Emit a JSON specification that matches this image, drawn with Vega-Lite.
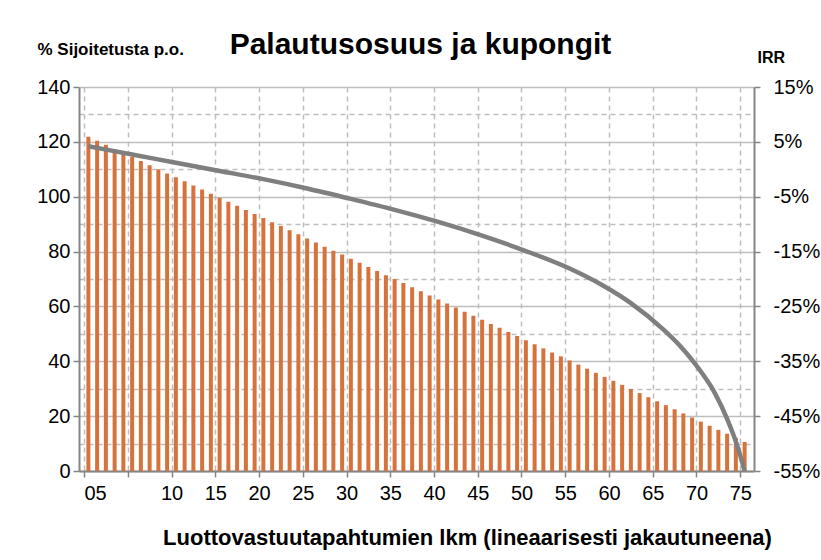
{
  "$schema": "https://vega.github.io/schema/vega-lite/v6.json",
  "autosize": {"type": "none"},
  "padding": {"left": 79, "top": 87, "right": 67, "bottom": 89},
  "width": 675,
  "height": 384,
  "background": "white",
  "title": {
    "text": "Palautusosuus ja kupongit",
    "anchor": "middle",
    "frame": "group",
    "font": "Liberation Sans",
    "fontSize": 30,
    "fontWeight": "bold",
    "color": "#000000",
    "offset": -20,
    "dx": 4
  },
  "config": {
    "view": {"stroke": null},
    "font": "Liberation Sans"
  },
  "datasets": {
    "bars": [
      {"x":0.5,"v":121.9},{"x":1.5,"v":120.4},{"x":2.5,"v":118.9},{"x":3.5,"v":117.4},{"x":4.5,"v":116.0},
      {"x":5.5,"v":114.5},{"x":6.5,"v":113.0},{"x":7.5,"v":111.5},{"x":8.5,"v":110.0},{"x":9.5,"v":108.5},
      {"x":10.5,"v":107.1},{"x":11.5,"v":105.6},{"x":12.5,"v":104.1},{"x":13.5,"v":102.6},{"x":14.5,"v":101.1},
      {"x":15.5,"v":99.6},{"x":16.5,"v":98.2},{"x":17.5,"v":96.7},{"x":18.5,"v":95.2},{"x":19.5,"v":93.7},
      {"x":20.5,"v":92.2},{"x":21.5,"v":90.7},{"x":22.5,"v":89.3},{"x":23.5,"v":87.8},{"x":24.5,"v":86.3},
      {"x":25.5,"v":84.8},{"x":26.5,"v":83.3},{"x":27.5,"v":81.8},{"x":28.5,"v":80.3},{"x":29.5,"v":78.9},
      {"x":30.5,"v":77.4},{"x":31.5,"v":75.9},{"x":32.5,"v":74.4},{"x":33.5,"v":72.9},{"x":34.5,"v":71.4},
      {"x":35.5,"v":70.0},{"x":36.5,"v":68.5},{"x":37.5,"v":67.0},{"x":38.5,"v":65.5},{"x":39.5,"v":64.0},
      {"x":40.5,"v":62.5},{"x":41.5,"v":61.1},{"x":42.5,"v":59.6},{"x":43.5,"v":58.1},{"x":44.5,"v":56.6},
      {"x":45.5,"v":55.1},{"x":46.5,"v":53.6},{"x":47.5,"v":52.2},{"x":48.5,"v":50.7},{"x":49.5,"v":49.2},
      {"x":50.5,"v":47.7},{"x":51.5,"v":46.2},{"x":52.5,"v":44.7},{"x":53.5,"v":43.2},{"x":54.5,"v":41.8},
      {"x":55.5,"v":40.3},{"x":56.5,"v":38.8},{"x":57.5,"v":37.3},{"x":58.5,"v":35.8},{"x":59.5,"v":34.3},
      {"x":60.5,"v":32.9},{"x":61.5,"v":31.4},{"x":62.5,"v":29.9},{"x":63.5,"v":28.4},{"x":64.5,"v":26.9},
      {"x":65.5,"v":25.4},{"x":66.5,"v":24.0},{"x":67.5,"v":22.5},{"x":68.5,"v":21.0},{"x":69.5,"v":19.5},
      {"x":70.5,"v":18.0},{"x":71.5,"v":16.5},{"x":72.5,"v":15.0},{"x":73.5,"v":13.6},{"x":74.5,"v":12.1},
      {"x":75.5,"v":10.6}
    ],
    "irr": [
      {"x":0.5,"irr":4.2},{"x":5.5,"irr":2.7},{"x":10.5,"irr":1.2},{"x":15.5,"irr":-0.3},
      {"x":20.5,"irr":-1.8},{"x":25.5,"irr":-3.5},{"x":30.5,"irr":-5.4},{"x":35.5,"irr":-7.4},
      {"x":40.5,"irr":-9.6},{"x":45.5,"irr":-12.1},{"x":50.5,"irr":-14.9},
      {"x":55.5,"irr":-18.1},{"x":59.2,"irr":-21.1},{"x":62.5,"irr":-24.4},{"x":66.2,"irr":-29.2},
      {"x":68,"irr":-32.0},{"x":69.8,"irr":-35.4},{"x":72.1,"irr":-40.8},{"x":73.5,"irr":-45.5},
      {"x":74.7,"irr":-50.6},{"x":75.5,"irr":-55}
    ]
  },
  "resolve": {"scale": {"y": "independent"}},
  "layer": [
    {
      "data": {"name": "bars"},
      "mark": {"type": "bar", "color": "#D6733C", "width": 4, "orient": "vertical"},
      "encoding": {
        "x": {
          "field": "x", "type": "quantitative",
          "scale": {"domain": [0, 76], "nice": false, "zero": false},
          "axis": {
            "values": [0,5,10,15,20,25,30,35,40,45,50,55,60,65,70,75],
            "labelExpr": "datum.value == 0 ? '05' : (datum.value == 5 ? '' : datum.label)",
            "labelAlign": {"condition": {"test": "datum.value == 0", "value": "left"}, "value": "center"},
            "labelDx": 3,
            "labelFont": "Liberation Sans", "labelFontSize": 20, "labelColor": "#000000",
            "labelPadding": 6,
            "labelFlush": false,
            "labelOverlap": false,
            "tickSize": 6, "tickColor": "#868686", "tickWidth": 1.5,
            "domainColor": "#868686", "domainWidth": 2,
            "grid": true, "gridDash": [5, 4], "gridColor": "#BEBEBE", "gridWidth": 1.5,
            "title": "Luottovastuutapahtumien lkm (lineaarisesti jakautuneena)",
            "titleFont": "Liberation Sans", "titleFontSize": 22, "titleFontWeight": "bold", "titleColor": "#000000",
            "titleAnchor": null, "titleAlign": "center", "titleBaseline": "alphabetic",
            "titleX": 388, "titleY": 73
          }
        },
        "y": {
          "field": "v", "type": "quantitative",
          "scale": {"domain": [0, 140], "nice": false},
          "axis": {
            "values": [0,10,20,30,40,50,60,70,80,90,100,110,120,130,140],
            "labelExpr": "datum.value % 20 == 0 ? datum.label : ''",
            "labelFont": "Liberation Sans", "labelFontSize": 20, "labelColor": "#000000",
            "labelPadding": 3,
            "tickSize": 6, "tickColor": "#868686", "tickWidth": 1.5,
            "tickOpacity": {"condition": {"test": "datum.value % 20 != 0", "value": 0}, "value": 1},
            "domainColor": "#868686", "domainWidth": 2,
            "grid": true,
            "gridColor": "#BEBEBE", "gridWidth": 1.5,
            "gridDash": {"condition": {"test": "datum.value % 20 != 0", "value": [5, 4]}, "value": []},
            "title": "% Sijoitetusta p.o.",
            "titleFont": "Liberation Sans", "titleFontSize": 17, "titleFontWeight": "bold", "titleColor": "#000000",
            "titleAngle": 0, "titleAnchor": null, "titleAlign": "left", "titleBaseline": "alphabetic",
            "titleX": -42, "titleY": -33
          }
        }
      }
    },
    {
      "data": {"name": "irr"},
      "mark": {"type": "line", "color": "#7F7F7F", "strokeWidth": 4.5, "interpolate": "monotone"},
      "encoding": {
        "x": {"field": "x", "type": "quantitative"},
        "y": {
          "field": "irr", "type": "quantitative",
          "scale": {"domain": [-55, 15], "nice": false, "zero": false},
          "axis": {
            "orient": "right",
            "values": [-55,-45,-35,-25,-15,-5,5,15],
            "labelExpr": "datum.value + '%'",
            "labelFont": "Liberation Sans", "labelFontSize": 20, "labelColor": "#000000",
            "labelPadding": 13,
            "tickSize": 6, "tickColor": "#868686", "tickWidth": 1.5,
            "domainColor": "#868686", "domainWidth": 2,
            "grid": false,
            "title": "IRR",
            "titleFont": "Liberation Sans", "titleFontSize": 16, "titleFontWeight": "bold", "titleColor": "#000000",
            "titleAngle": 0, "titleAnchor": null, "titleAlign": "left", "titleBaseline": "alphabetic",
            "titleX": 3, "titleY": -25
          }
        }
      }
    }
  ]
}
